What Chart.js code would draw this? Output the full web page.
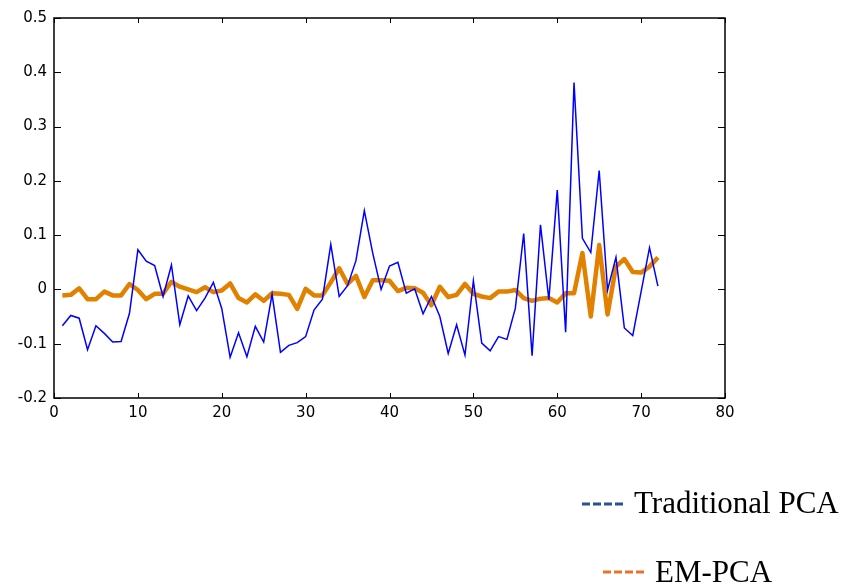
<!DOCTYPE html>
<html>
<head>
<meta charset="utf-8">
<script src="https://cdn.jsdelivr.net/npm/chart.js@4/dist/chart.umd.min.js"></script>
<style>
  html, body { margin: 0; padding: 0; background: #fff; }
  #wrap { width: 847px; height: 585px; }
</style>
</head>
<body>
<div id="wrap"><canvas id="chart" width="847" height="585"></canvas></div>
<script>
// Values (sample 1..72)
const traditionalPCA = [
  -0.067, -0.048, -0.053, -0.111, -0.067, -0.081, -0.097, -0.096, -0.044, 0.073,
  0.052, 0.044, -0.013, 0.045, -0.065, -0.012, -0.039, -0.016, 0.013, -0.035,
  -0.125, -0.080, -0.124, -0.068, -0.097, -0.009, -0.116, -0.103, -0.098, -0.087,
  -0.038, -0.018, 0.083, -0.013, 0.007, 0.053, 0.145, 0.067, 0.000, 0.043,
  0.050, -0.007, 0.001, -0.045, -0.013, -0.050, -0.118, -0.065, -0.121, 0.016,
  -0.099, -0.113, -0.087, -0.092, -0.035, 0.103, -0.122, 0.119, -0.019, 0.183,
  -0.079, 0.381, 0.094, 0.068, 0.219, -0.001, 0.059, -0.071, -0.085, -0.004,
  0.077, 0.006
];
const emPCA = [
  -0.011, -0.010, 0.002, -0.018, -0.018, -0.004, -0.011, -0.011, 0.010, -0.001,
  -0.018, -0.008, -0.008, 0.014, 0.005, 0.000, -0.005, 0.004, -0.005, -0.002,
  0.011, -0.016, -0.024, -0.009, -0.021, -0.007, -0.008, -0.010, -0.036, 0.001,
  -0.011, -0.011, 0.013, 0.039, 0.010, 0.025, -0.014, 0.017, 0.017, 0.016,
  -0.003, 0.003, 0.002, -0.006, -0.029, 0.005, -0.014, -0.010, 0.010, -0.008,
  -0.013, -0.016, -0.004, -0.004, -0.001, -0.016, -0.021, -0.017, -0.016, -0.024,
  -0.007, -0.007, 0.067, -0.050, 0.082, -0.046, 0.042, 0.056, 0.032, 0.031,
  0.042, 0.059
];
const seriesNames = ["Traditional PCA", "EM-PCA"];
const xTicks = [0, 10, 20, 30, 40, 50, 60, 70, 80];
const yTicks = [-0.2, -0.1, 0, 0.1, 0.2, 0.3, 0.4, 0.5];

// sample index for each value
const sampleIndex = traditionalPCA.map((_, k) => k + 1);
const toPoints = (vals) => vals.map((v, k) => ({ x: sampleIndex[k], y: v }));

const tickFont = { family: "DejaVu Sans", size: 15 };

// box round the plot + ticks pointing inwards
const framePlugin = {
  id: "frame",
  afterDatasetsDraw(chart) {
    const { ctx, chartArea: a, scales } = chart;
    ctx.save();
    ctx.strokeStyle = "#000";
    ctx.lineWidth = 1.5;
    ctx.strokeRect(a.left, a.top, a.right - a.left, a.bottom - a.top);
    ctx.lineWidth = 1;
    ctx.beginPath();
    for (const v of xTicks) {
      const px = Math.round(scales.x.getPixelForValue(v)) + 0.5;
      ctx.moveTo(px, a.bottom); ctx.lineTo(px, a.bottom - 5);
      ctx.moveTo(px, a.top); ctx.lineTo(px, a.top + 5);
    }
    for (const v of yTicks) {
      const py = Math.round(scales.y.getPixelForValue(v)) + 0.5;
      ctx.moveTo(a.left, py); ctx.lineTo(a.left + 7, py);
      ctx.moveTo(a.right, py); ctx.lineTo(a.right - 7, py);
    }
    ctx.stroke();
    ctx.restore();
  },
};

// legend in the lower right, dashed swatch + serif label
const legendSwatch = ["#2b5190", "#e4742b"];
const legendPlugin = {
  id: "dashLegend",
  afterDraw(chart) {
    const { ctx } = chart;
    const rows = [
      { x: 582, y: 504, base: 513 },
      { x: 603, y: 572, base: 582 },
    ];
    ctx.save();
    ctx.font = '31px "Liberation Serif"';
    ctx.textBaseline = "alphabetic";
    rows.forEach((r, i) => {
      ctx.strokeStyle = legendSwatch[i];
      ctx.lineWidth = 3;
      ctx.setLineDash([8, 3]);
      ctx.beginPath();
      ctx.moveTo(r.x, r.y);
      ctx.lineTo(r.x + 41, r.y);
      ctx.stroke();
      ctx.setLineDash([]);
      ctx.fillStyle = "#000";
      ctx.fillText(chart.data.datasets[i].label, r.x + 52, r.base);
    });
    ctx.restore();
  },
};

new Chart(document.getElementById("chart"), {
  type: "line",
  data: {
    datasets: [
      {
        label: seriesNames[0],
        data: toPoints(traditionalPCA),
        borderColor: "#0000ff",
        borderWidth: 1.5,
        pointRadius: 0,
        tension: 0,
      },
      {
        label: seriesNames[1],
        data: toPoints(emPCA),
        borderColor: "#e28000",
        borderWidth: 4.5,
        pointRadius: 0,
        tension: 0,
        borderJoinStyle: "round",
      },
    ],
  },
  options: {
    responsive: false,
    devicePixelRatio: 1,
    animation: false,
    layout: { padding: { top: 18, right: 122, bottom: 162, left: 0 } },
    plugins: { legend: { display: false }, tooltip: { enabled: false } },
    scales: {
      x: {
        type: "linear",
        min: 0,
        max: 80,
        afterBuildTicks: (s) => { s.ticks = xTicks.map((v) => ({ value: v })); },
        afterFit: (s) => { s.height = 25; },
        ticks: { font: tickFont, color: "#000", padding: 6, maxRotation: 0 },
        grid: { display: false, drawTicks: false },
        border: { display: false },
      },
      y: {
        min: -0.2,
        max: 0.5,
        afterBuildTicks: (s) => { s.ticks = yTicks.map((v) => ({ value: v })); },
        afterFit: (s) => { s.width = 54; },
        ticks: {
          font: tickFont,
          color: "#000",
          padding: 7,
          callback: (v) => String(Number(v.toFixed(1))),
        },
        grid: { display: false, drawTicks: false },
        border: { display: false },
      },
    },
  },
  plugins: [framePlugin, legendPlugin],
});
</script>
</body>
</html>
